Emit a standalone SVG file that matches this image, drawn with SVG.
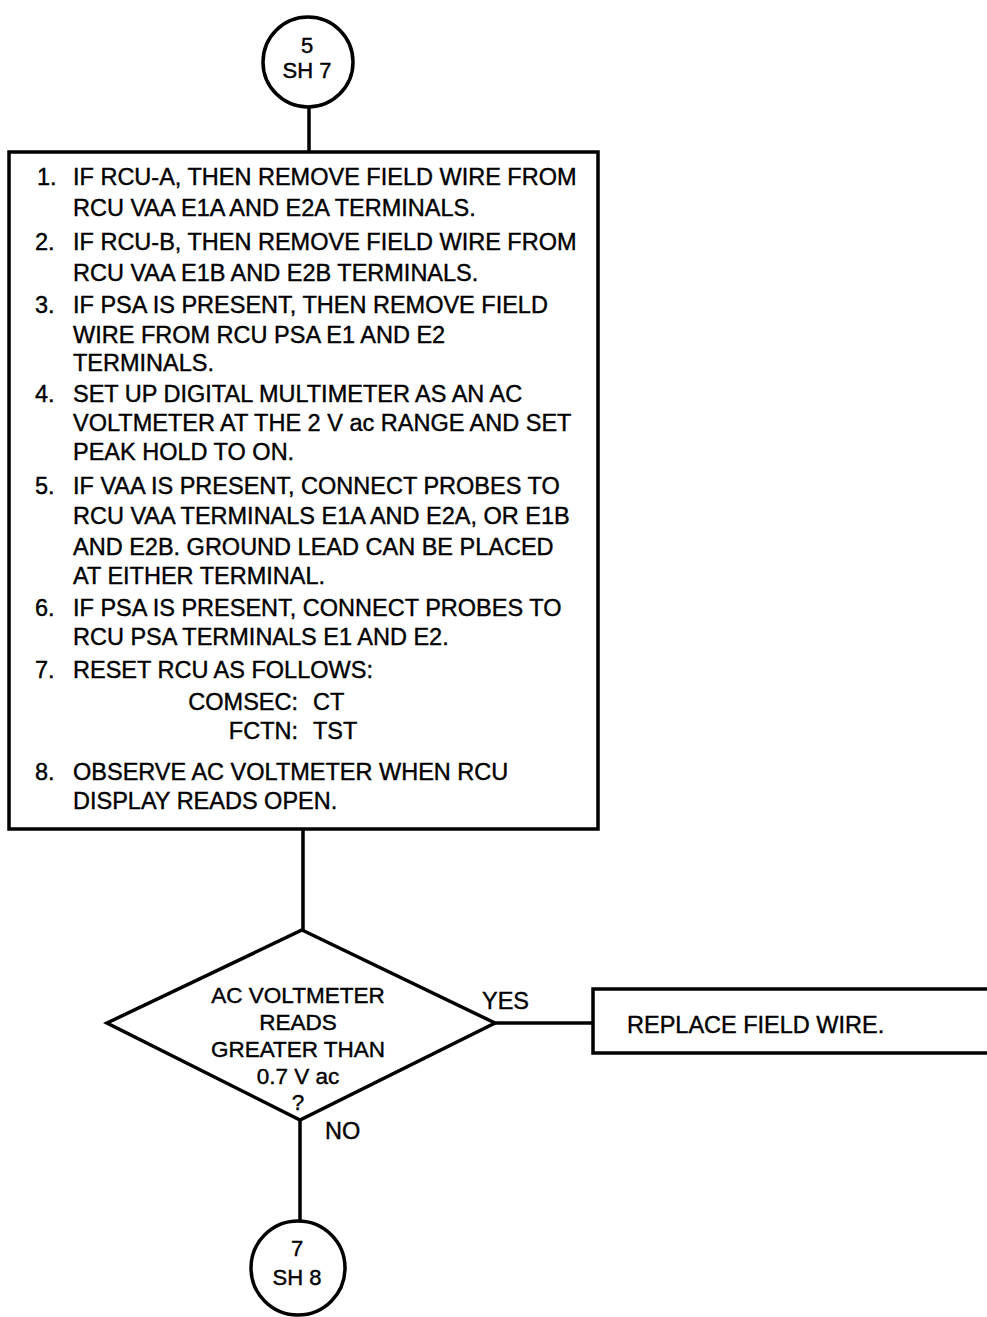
<svg xmlns="http://www.w3.org/2000/svg" width="987" height="1317" viewBox="0 0 987 1317">
<style>
.s{fill:none;stroke:#000;stroke-width:3.5}
.f{fill:#fff;stroke:#000;stroke-width:3.5}
text{font-family:"Liberation Sans",Arial,sans-serif;font-size:23.5px;fill:#000;stroke:#000;stroke-width:0.4}
.c{text-anchor:middle;font-size:22px}
.d{text-anchor:middle;font-size:22.5px}
.e{text-anchor:end}
</style>
<rect width="987" height="1317" fill="#fff"/>
<g id="connectors">
<line class="s" x1="309" y1="106" x2="309" y2="152"/>
<line class="s" x1="303" y1="829" x2="303" y2="930"/>
<line class="s" x1="495" y1="1023" x2="593" y2="1023"/>
<line class="s" x1="300" y1="1120" x2="300" y2="1222"/>
<text x="482" y="1009" font-size="23">YES</text>
<text x="325" y="1139" font-size="23">NO</text>
</g>
<g id="start">
<circle class="f" cx="308" cy="62" r="45"/>
<text class="c" x="307" y="53">5</text>
<text class="c" x="307" y="78">SH 7</text>
</g>
<g id="steps">
<rect class="f" x="9" y="152" width="589" height="677"/>
<text x="37" y="185">1.</text><text x="73" y="185">IF RCU-A, THEN REMOVE FIELD WIRE FROM</text>
<text x="73" y="216">RCU VAA E1A AND E2A TERMINALS.</text>
<text x="35" y="250">2.</text><text x="73" y="250">IF RCU-B, THEN REMOVE FIELD WIRE FROM</text>
<text x="73" y="281">RCU VAA E1B AND E2B TERMINALS.</text>
<text x="35" y="313">3.</text><text x="73" y="313">IF PSA IS PRESENT, THEN REMOVE FIELD</text>
<text x="73" y="343">WIRE FROM RCU PSA E1 AND E2</text>
<text x="73" y="371">TERMINALS.</text>
<text x="35" y="402">4.</text><text x="73" y="402">SET UP DIGITAL MULTIMETER AS AN AC</text>
<text x="73" y="431">VOLTMETER AT THE 2 V ac RANGE AND SET</text>
<text x="73" y="460">PEAK HOLD TO ON.</text>
<text x="35" y="494">5.</text><text x="73" y="494">IF VAA IS PRESENT, CONNECT PROBES TO</text>
<text x="73" y="524">RCU VAA TERMINALS E1A AND E2A, OR E1B</text>
<text x="73" y="555">AND E2B. GROUND LEAD CAN BE PLACED</text>
<text x="73" y="584">AT EITHER TERMINAL.</text>
<text x="35" y="616">6.</text><text x="73" y="616">IF PSA IS PRESENT, CONNECT PROBES TO</text>
<text x="73" y="645">RCU PSA TERMINALS E1 AND E2.</text>
<text x="35" y="678">7.</text><text x="73" y="678">RESET RCU AS FOLLOWS:</text>
<text class="e" x="298" y="710">COMSEC:</text><text x="313" y="710">CT</text>
<text class="e" x="298" y="739">FCTN:</text><text x="313" y="739">TST</text>
<text x="35" y="780">8.</text><text x="73" y="780">OBSERVE AC VOLTMETER WHEN RCU</text>
<text x="73" y="809">DISPLAY READS OPEN.</text>
</g>
<g id="decision">
<polygon class="f" points="302,930 495,1023 300,1120 107,1023"/>
<text class="d" x="298" y="1003">AC VOLTMETER</text>
<text class="d" x="298" y="1030">READS</text>
<text class="d" x="298" y="1057">GREATER THAN</text>
<text class="d" x="298" y="1084">0.7 V ac</text>
<text class="d" x="298" y="1110" font-size="21">?</text>
</g>
<g id="replace">
<polyline class="s" points="995,989 593,989 593,1053 995,1053"/>
<text x="627" y="1033">REPLACE FIELD WIRE.</text>
</g>
<g id="end">
<circle class="f" cx="298" cy="1268" r="47"/>
<text class="c" x="297" y="1256">7</text>
<text class="c" x="297" y="1285">SH 8</text>
</g>
</svg>
